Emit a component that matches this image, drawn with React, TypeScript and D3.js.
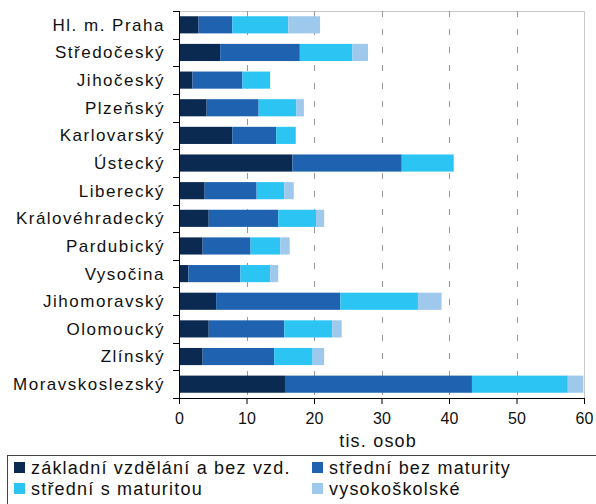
import * as d3 from "d3";
import { useEffect, useRef } from "react";

// regions, top to bottom
const regions = [
    "Hl. m. Praha",
    "Středočeský",
    "Jihočeský",
    "Plzeňský",
    "Karlovarský",
    "Ústecký",
    "Liberecký",
    "Královéhradecký",
    "Pardubický",
    "Vysočina",
    "Jihomoravský",
    "Olomoucký",
    "Zlínský",
    "Moravskoslezský",
];

// tis. osob
const zakladni = [2.9, 6.1, 2.0, 4.1, 7.9, 16.8, 3.8, 4.4, 3.5, 1.4, 5.5, 4.4, 3.5, 15.7];
const stredniBez = [5.0, 11.8, 7.4, 7.7, 6.5, 16.2, 7.7, 10.3, 7.1, 7.7, 18.4, 11.2, 10.6, 27.7];
const stredniS = [8.3, 7.8, 4.1, 5.6, 2.9, 7.7, 4.1, 5.6, 4.4, 4.4, 11.5, 7.1, 5.7, 14.2];
const vysoko = [4.7, 2.3, 0, 1.1, 0, 0, 1.4, 1.2, 1.4, 1.2, 3.5, 1.4, 1.7, 2.3];

const seriesNames = [
    "základní vzdělání a bez vzd.",
    "střední bez maturity",
    "střední s maturitou",
    "vysokoškolské",
];
const colors = ["#0b2a52", "#1f62b0", "#2cc5f3", "#9ec8ec"];
const xTicks = [0, 10, 20, 30, 40, 50, 60];
const axisTitle = "tis. osob";

const font = "'Liberation Sans', Arial, sans-serif";

export default function App() {
    const ref = useRef<SVGSVGElement | null>(null);

    useEffect(() => {
        if (!ref.current) return;
        const svg = d3.select(ref.current);
        svg.selectAll("*").remove();

        const width = 596;
        const height = 504;
        const margin = { top: 11, left: 179, right: 12, bottom: 106 };
        const plotW = width - margin.left - margin.right;
        const plotH = height - margin.top - margin.bottom;

        svg.attr("width", width).attr("height", height).style("font-family", font);

        const g = svg.append("g").attr("transform", `translate(${margin.left},${margin.top})`);

        const x = d3.scaleLinear().domain([0, 60]).range([0, plotW]);
        const y = d3.scaleBand().domain(regions).range([0, plotH]).paddingInner(0.38).paddingOuter(0.19);

        // plot border (top/right)
        g.append("path")
            .attr("d", `M0,0.5H${plotW + 0.5}V${plotH}`)
            .attr("fill", "none")
            .attr("stroke", "#c8c8c8")
            .attr("stroke-width", 1);

        // gridlines
        g.append("g")
            .selectAll("line")
            .data(xTicks.filter((t) => t > 0 && t < 60))
            .join("line")
            .attr("x1", (d) => Math.round(x(d)) + 0.5)
            .attr("x2", (d) => Math.round(x(d)) + 0.5)
            .attr("y1", 0)
            .attr("y2", plotH)
            .attr("stroke", "#999")
            .attr("stroke-dasharray", "6,12");

        const rows = regions.map((r, i) => ({
            region: r,
            vals: [zakladni[i], stredniBez[i], stredniS[i], vysoko[i]],
        }));

        const stack = d3
            .stack<{ region: string; vals: number[] }, number>()
            .keys([0, 1, 2, 3])
            .value((d, k) => d.vals[k]);
        const layers = stack(rows);

        g.append("g")
            .selectAll("g")
            .data(layers)
            .join("g")
            .attr("fill", (_, i) => colors[i])
            .selectAll("rect")
            .data((d) => d)
            .join("rect")
            .attr("x", (d) => x(d[0]))
            .attr("y", (d) => y(d.data.region)!)
            .attr("width", (d) => Math.max(0, x(d[1]) - x(d[0])))
            .attr("height", y.bandwidth());

        // y axis, ticks sit between categories
        const step = y.step();
        g.append("line")
            .attr("x1", 0.5)
            .attr("x2", 0.5)
            .attr("y1", 0)
            .attr("y2", plotH)
            .attr("stroke", "#000");
        g.append("g")
            .selectAll("line")
            .data(d3.range(regions.length + 1))
            .join("line")
            .attr("x1", -6)
            .attr("x2", 0.5)
            .attr("y1", (i) => Math.round(i * step) + 0.5)
            .attr("y2", (i) => Math.round(i * step) + 0.5)
            .attr("stroke", "#000");

        g.append("g")
            .selectAll("text")
            .data(regions)
            .join("text")
            .attr("x", -14)
            .attr("y", (d) => y(d)! + y.bandwidth() / 2)
            .attr("dy", "0.35em")
            .attr("text-anchor", "end")
            .attr("font-size", 17)
            .attr("letter-spacing", 1.5)
            .attr("fill", "#111")
            .text((d) => d);

        // x axis
        const xa = g
            .append("g")
            .attr("transform", `translate(0,${plotH})`)
            .call(d3.axisBottom(x).tickValues(xTicks).tickSize(6).tickFormat(d3.format("d")));
        xa.select(".domain").attr("stroke", "#000");
        xa.selectAll("text")
            .attr("font-size", 16)
            .attr("font-family", font)
            .attr("fill", "#111")
            .attr("dy", "1.05em");

        g.append("text")
            .attr("x", x(29.5))
            .attr("y", plotH + 49)
            .attr("text-anchor", "middle")
            .attr("font-size", 18)
            .attr("letter-spacing", 1.2)
            .attr("fill", "#111")
            .text(axisTitle);

        // legend
        const lg = svg.append("g");
        lg.append("rect")
            .attr("x", 7.5)
            .attr("y", 455.5)
            .attr("width", 620)
            .attr("height", 80)
            .attr("fill", "none")
            .attr("stroke", "#444");
        const items = lg
            .selectAll("g.item")
            .data(seriesNames)
            .join("g")
            .attr("class", "item")
            .attr("transform", (_, i) => `translate(${i % 2 === 0 ? 14 : 312},${i < 2 ? 462 : 483})`);
        items
            .append("rect")
            .attr("width", 11)
            .attr("height", 11)
            .attr("fill", (_, i) => colors[i]);
        items
            .append("text")
            .attr("x", 17)
            .attr("y", 5.5)
            .attr("dy", "0.35em")
            .attr("font-size", 18)
            .attr("letter-spacing", 1.2)
            .attr("fill", "#111")
            .text((d) => d);
    }, []);

    return (
        <svg
            ref={ref}
            style={{ display: "block", position: "absolute", left: 0, top: 0 }}
        ></svg>
    );
}
